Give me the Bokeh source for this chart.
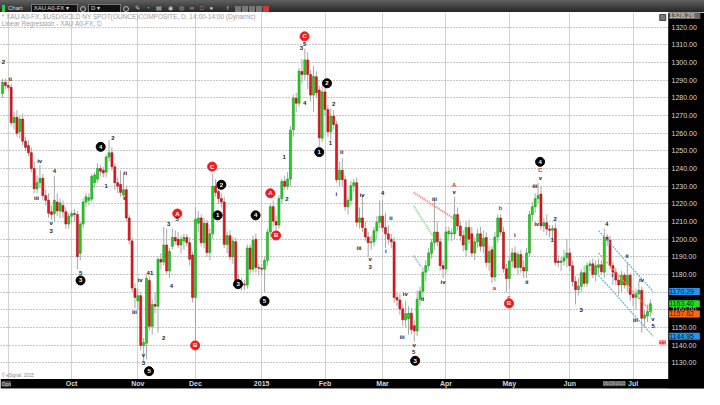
from bokeh.plotting import figure
from bokeh.models import ColumnDataSource, FixedTicker, PrintfTickFormatter, Label, Div
from bokeh.layouts import column
from bokeh.embed import file_html
from bokeh.resources import INLINE
from bokeh.core.properties import value

# ---------------- data ----------------
first_index = -2   # trading-day index of first candle (0 = 1 Sep 2014)
opens = [1282.5,1288.8,1287,1286,1266,1269,1261,1268,1255.5,1253,1249,1240,1228.5,1232,1234.5,1224.7,1222,1215.5,1214.5,1221,1216,1219,1215.5,1208.6,1213,1214.5,
 1214,1192,1208.6,1221,1222,1222.7,1232,1234,1240,1239,1238,1246.5,1249,1241,1232,1231,1225,1228,1212,1199,1172,1165,1168,1139.8,1141,1176.6,1150.6,1163,
 1162,1188.6,1187,1196.7,1182,1196,1201,1200,1196.7,1199,1201,1198,1191,1167,1209,1212,1198,1209,1192.4,1203,1230,1227,1223,1221,1197,1202,1190,1198.5,
 1176,1175,1174.5,1174,1195,1183,1200,1184,1183.5,1183,1188,1204,1218.4,1210,1208,1223,1232.8,1230,1234,1262,1279.8,1277,1295,1293.3,1301.5,1293.3,1281.6,
 1292,1284.5,1257.2,1283.4,1273.5,1260.8,1269.7,1265,1233.7,1239,1233.7,1218.4,1222,1230.3,1232,1209.6,1212,1206,1201.2,1198,1198.5,1204.8,1209.6,1213,
 1206.6,1203,1200,1198.5,1167,1165.5,1160.5,1154.3,1155,1158,1151,1148,1166,1170.5,1181.3,1185,1192,1198,1204,1198.5,1185,1183.2,1203,1203,1203,1213.9,
 1207.5,1202,1194,1206.6,1203,1192.2,1198.5,1203,1196,1201,1186.8,1194,1178.6,1201.2,1212,1204,1183.2,1177.7,1187.6,1192.2,1184,1191.3,1184,1182,1192.2,
 1214,1218.4,1222.9,1225.6,1207.5,1209.3,1205.7,1205,1206,1187.6,1186.8,1187.6,1189.4,1192.2,1185,1176,1171.4,1173.3,1181,1175,1185,1186,1180,1184,1185.5,
 1181.3,1201.2,1199.4,1185,1181.3,1176.8,1174.1,1179.5,1174,1179.5,1168.7,1167,1169,1171,1155.2,1156.5,1159]
highs = [1291,1291,1289,1288,1272,1273,1270,1271,1258,1256,1252,1244,1236,1242,1237,1228,1226,1219,1236,1226,1223,1222,1218,1215,1216,1217,
 1216,1210,1223,1226,1226,1237,1238,1243,1242,1241,1248,1256,1252,1243,1235,1239,1238,1230,1214,1201,1175,1172,1170,1144,1180,1179,1166,1170,
 1190,1192,1207,1206,1195,1206,1205,1204,1202,1203,1203,1201,1193,1218,1216,1214,1212,1211,1206,1237,1234,1229,1226,1224,1204,1205,1201,1201,
 1180,1178,1177,1197,1197,1202,1203,1186,1186,1190,1206,1220,1222,1213,1225,1234,1236,1238,1264,1282,1283,1297,1302,1308,1306,1296,1298,
 1295,1287,1287,1288,1276,1274,1273,1267,1244,1246,1236,1224,1233,1234,1235,1218,1225,1210,1204,1202,1207,1213,1222,1222,
 1215,1208,1203,1201,1170,1169,1163,1165,1162,1161,1154,1171,1173,1184,1188,1195,1200,1222,1210,1201,1188,1207,1207,1206,1224,
 1218,1210,1205,1210,1211,1207,1201,1206,1207,1205,1204,1196,1196,1204,1214,1214,1207,1186,1190,1195,1196,1193,1194,1188,1195,
 1216,1221,1226,1232,1230,1212,1214,1208,1208,1209,1191,1190,1194,1200,1195,1188,1179,1178,1183,1185,1187,1188,1189,1188,1189,
 1188,1206,1203,1202,1187,1184,1179,1182,1181,1187,1181,1171,1172,1176,1173,1160,1163,1166]
lows = [1280,1285,1284,1264,1262,1258,1257,1253,1250,1247,1238,1226,1226,1229,1222,1219,1212,1211,1210,1213,1212,1212,1206,1206,1209,1210,
 1183,1188,1206,1218,1219,1221,1229,1232,1236,1235,1235,1244,1239,1228,1226,1224,1222,1210,1197,1170,1161,1160,1137,1131,1132,1148,1146,1158,
 1147,1183,1185,1180,1178,1194,1197,1195,1192,1194,1196,1185,1164,1140,1204,1196,1195,1190,1188,1200,1224,1220,1218,1195,1192,1188,1186,1172,
 1172,1171,1171,1172,1180,1181,1181,1180,1180,1170,1185,1201,1207,1205,1206,1220,1228,1228,1230,1258,1272,1275,1288,1290,1285,1278,1272,
 1280,1252,1255,1270,1258,1256,1262,1232,1230,1230,1216,1214,1219,1227,1207,1206,1204,1199,1190,1194,1196,1200,1206,
 1204,1195,1197,1195,1164,1162,1157,1151,1150,1146,1146,1142,1145,1162,1166,1176,1182,1189,1194,1196,1182,1178,1180,1199,1199,1200,
 1205,1199,1193,1190,1197,1190,1188,1195,1193,1192,1184,1182,1175,1176,1198,1202,1181,1170,1172,1184,1183,1180,1181,1178,1178,
 1190,1210,1215,1220,1205,1204,1202,1201,1200,1185,1184,1182,1185,1184,1182,1173,1163,1168,1170,1173,1173,1182,1178,1176,1180,
 1180,1178,1196,1183,1174,1174,1168,1170,1172,1170,1165,1162,1160,1166,1147,1150,1153,1156]
closes = [1288.8,1287,1286,1266,1269,1260,1268,1255.5,1252,1249,1240,1228.5,1232,1234.5,1224.7,1222,1214.7,1214,1222,1216,1220.5,1215.5,1208.6,1213,1214.5,1214,
 1190.2,1208.6,1221,1224,1223.5,1235.6,1236.4,1240,1238.5,1237.5,1246.5,1249,1241,1232,1230,1226.5,1228,1212,1199.4,1172.3,1167,1168,1139.8,1141.4,1177.7,1150.6,1163,1162,
 1188.6,1187,1196.7,1182,1193,1201,1199,1196.7,1200,1201,1198,1188.6,1167,1211.3,1212,1198,1209,1192.4,1203,1230,1226.5,1223,1221,1197,1202,1190,1199,1176,
 1175,1174.5,1174,1195,1183,1199.4,1184,1183.5,1183,1188,1204,1218.4,1210.2,1208,1223,1232.8,1230,1234,1261.7,1279.8,1277,1295.2,1293.3,1301.5,1293.3,1281.6,1292.2,
 1283,1257.4,1283.4,1273.5,1260.8,1269.7,1265,1233.7,1239.1,1233.7,1218.4,1222,1230.3,1232,1209.6,1212,1206.6,1201.2,1198,1198.5,1204.8,1209.6,1213,1206.6,
 1203,1200,1198.5,1166.9,1165.5,1160.5,1154.3,1157.8,1158,1148.8,1148,1166,1170.5,1181.3,1185,1192.2,1198,1204,1198.5,1185,1183.2,1204,1204.5,1203.5,1213.9,1207.5,
 1202,1196.7,1206.6,1200,1192.2,1198.5,1203,1196,1200.5,1186.8,1193,1178.6,1201.2,1212,1204,1183.2,1177.7,1187.6,1192.2,1184,1191.3,1184,1182,1192.2,1213.9,
 1218.4,1222.9,1224.7,1207.5,1209.3,1205.7,1205,1206,1186.8,1186.8,1187.6,1189.4,1192.2,1185,1176,1171.4,1173.3,1181,1175,1185,1186,1180,1185,1185.5,1181.5,
 1201.2,1199.4,1185,1181.3,1176.8,1174.1,1179.5,1174.1,1179.5,1168.7,1167,1169,1171,1155.2,1157,1159,1163.4]

month_ticks = [0, 22, 45, 65, 88, 110, 130, 152, 174, 195, 217]
month_labels = ["", "Oct", "Nov", "Dec", "2015", "Feb", "Mar", "Apr", "May", "Jun", "Jul"]
price_ticks = [1130, 1140, 1150, 1160, 1170, 1180, 1190, 1200, 1210, 1220, 1230,
               1240, 1250, 1260, 1270, 1280, 1290, 1300, 1310, 1320]

# wave-count annotations (trading-day index, price, text)
black_circle_x = [32.1, 25.1, 48.9, 74.0, 72.7, 79.8, 85.9, 89.0, 110.7, 108.0, 141.3, 184.7]
black_circle_y = [1252.3, 1176.6, 1125.2, 1230.8, 1213.5, 1174.5, 1213.5, 1164.9, 1288.3, 1249.3, 1131.1, 1243.8]
black_circle_t = ["4", "3", "5", "2", "1", "3", "4", "5", "2", "1", "3", "4"]
red_circle_x = [70.8, 58.7, 64.9, 91.0, 93.0, 102.9, 173.9]
red_circle_y = [1241.1, 1214.5, 1139.8, 1226.0, 1202.1, 1314.9, 1163.6]
red_circle_t = ["C", "A", "B", "A", "B", "C", "B"]
black_text_x = [-1.7, 0.7, 10.9, 9.8, 16.0, 14.9, 14.9, 25.1, 34.0, 36.3, 40.7, 40.4, 43.8, 45.8, 46.9, 46.9, 49.2,
                54.0, 55.7, 56.7, 58.7, 96.8, 95.8, 101.8, 102.9, 102.9, 113.0, 111.9, 115.8, 113.9, 121.8, 122.9,
                125.7, 125.7, 130.0, 132.9, 131.1, 137.9, 136.8, 141.0, 140.8, 143.9, 148.0, 151.0, 154.9, 175.9,
                180.1, 182.9, 183.5, 184.8, 189.9, 188.9, 199.0, 207.8, 209.8, 214.9, 217.8, 219.9, 223.9, 224.0]
black_text_y = [1300.2, 1290.5, 1244.4, 1223.3, 1238.4, 1209.2, 1204.8, 1181.0, 1230.3, 1257.4, 1237.3, 1223.3, 1158.8,
                1176.7, 1134.4, 1130.1, 1181.0, 1144.1, 1208.6, 1173.4, 1211.3, 1222.5, 1246.7, 1308.2, 1310.5, 1277.1,
                1276.7, 1254.5, 1249.1, 1225.6, 1195.1, 1225.0, 1188.6, 1184.2, 1226.1, 1212.0, 1193.1, 1168.7, 1144.3,
                1139.8, 1136.2, 1166.0, 1222.9, 1175.9, 1226.5, 1202.1, 1175.9, 1230.1, 1208.5, 1234.6, 1211.7, 1199.4,
                1160.0, 1208.5, 1179.5, 1190.4, 1154.3, 1176.8, 1154.6, 1150.6]
black_text_t = ["2", "ii", "iv", "iii", "4", "v", "3", "5", "1", "2", "ii", "i", "iii", "iv", "v", "3", "41",
                "2", "3", "4", "5", "2", "1", "3", "5", "4", "2", "1", "ii", "i", "iii", "iv",
                "v", "3", "4", "ii", "i", "iv", "iii", "v", "5", "ii", "iii", "iv", "v", "i",
                "ii", "iii", "iv", "v", "2", "1", "3", "4", "i", "ii", "iii", "iv", "v", "5"]
red_text_x = [154.9, 171.0, 168.8, 173.9, 184.8]
red_text_y = [1230.5, 1217.5, 1172.3, 1167.4, 1239.1]
red_text_t = ["A", "b", "a", "c", "C"]

# linear regression channel (last leg)
reg_x = [205, 224]
reg_mid = [1192.2, 1157.62]
reg_upper = [1204.87, 1170.29]
reg_lower = [1179.53, 1144.95]

# drawn trend lines in March
red_line_x, red_line_y = [140.8, 154.4], [1226.5, 1212.0]
green_line_x, green_line_y = [140.8, 147.3], [1218.9, 1202.0]
blue_line_x, blue_line_y = [140.8, 143.3], [1190.7, 1184.6]

last_price = 1163.40
top_price = 1328.26
counter_text = "33"
cursor_date = "06/29/2015"

# ---------------- figure ----------------
FONT = "Liberation Sans"
plot_x0, plot_x1 = -2.7, 229.2        # price pane
plot_y0, plot_y1 = 1120.8, 1328.4
full_x1 = 241.8                        # includes right price-scale band
full_y0 = 1115.4                       # includes bottom date band

p = figure(width=704, height=377, x_range=(plot_x0, full_x1), y_range=(full_y0, plot_y1),
           y_axis_location="right", output_backend="svg", toolbar_location=None,
           min_border_left=0, min_border_right=0, min_border_top=0, min_border_bottom=0,
           background_fill_color="white", border_fill_color="black", outline_line_color=None)

p.yaxis.ticker = FixedTicker(ticks=price_ticks)
p.yaxis.formatter = PrintfTickFormatter(format="%.2f")
p.yaxis.major_label_text_font_size = "7px"
p.yaxis.major_label_text_color = "#d8d8d8"
p.yaxis.major_label_text_font = FONT
p.yaxis.axis_line_color = None
p.yaxis.major_tick_line_color = None
p.yaxis.minor_tick_line_color = None
p.yaxis.major_tick_out = 0
p.yaxis.major_tick_in = 0
p.yaxis.major_label_standoff = -33

p.xaxis.ticker = FixedTicker(ticks=month_ticks)
p.xaxis.major_label_overrides = {t: l for t, l in zip(month_ticks, month_labels)}
p.xaxis.major_label_text_font_size = "7px"
p.xaxis.major_label_text_font_style = "bold"
p.xaxis.major_label_text_color = "#d8d8d8"
p.xaxis.major_label_text_font = FONT
p.xaxis.axis_line_color = None
p.xaxis.major_tick_line_color = None
p.xaxis.minor_tick_line_color = None
p.xaxis.major_tick_out = 0
p.xaxis.major_tick_in = 0
p.xaxis.major_label_standoff = -9

p.ygrid.grid_line_color = "#8c8c8c"
p.ygrid.grid_line_dash = "1 2"
p.xgrid.grid_line_color = "#d2d2d2"

# black bands for the price scale (right) and the date scale (bottom)
p.quad(left=[plot_x1], right=[full_x1], bottom=[full_y0], top=[plot_y1], fill_color="black", line_color=None)
p.quad(left=[plot_x0], right=[full_x1], bottom=[full_y0], top=[plot_y0], fill_color="black", line_color=None)

# candles
xs = list(range(first_index, first_index + len(opens)))
tops = [max(o, c) for o, c in zip(opens, closes)]
bots = [min(o, c) for o, c in zip(opens, closes)]
fills = ["#1fd21f" if c >= o else "#e8141b" for o, c in zip(opens, closes)]
lines = ["#0f8a0f" if c >= o else "#9a0a0a" for o, c in zip(opens, closes)]
src = ColumnDataSource(dict(x=xs, o=opens, h=highs, l=lows, c=closes, top=tops, bot=bots, fill=fills, line=lines))
p.segment(x0="x", y0="h", x1="x", y1="l", source=src, line_color="#a8a8a8", line_width=1)
p.vbar(x="x", top="top", bottom="bot", width=0.72, source=src, fill_color="fill", line_color="line", line_width=0.5)

# regression channel and trend lines
p.line(reg_x, reg_upper, line_color="#5ab4ee", line_width=1.2, line_dash="2 1")
p.line(reg_x, reg_lower, line_color="#5ab4ee", line_width=1.2, line_dash="2 1")
p.line(reg_x, reg_mid, line_color="#ff8a1e", line_width=1.2, line_dash="2 1")
p.line(red_line_x, red_line_y, line_color="#ff6f6f", line_width=2, line_dash="1 1")
p.line(green_line_x, green_line_y, line_color="#7ee37e", line_width=2, line_dash="1 1")
p.line(blue_line_x, blue_line_y, line_color="#8fb0ff", line_width=2, line_dash="1 1")

# wave labels
p.scatter(black_circle_x, black_circle_y, size=9, fill_color="black", line_color="black")
p.text(black_circle_x, black_circle_y, text=black_circle_t, text_color="white", text_font_size="6px",
       text_font_style="bold", text_align="center", text_baseline="middle", text_font=value(FONT))
p.scatter(red_circle_x, red_circle_y, size=9, fill_color="#f01c1c", line_color="#f01c1c")
p.text(red_circle_x, red_circle_y, text=red_circle_t, text_color="white", text_font_size="6px",
       text_font_style="bold", text_align="center", text_baseline="middle", text_font=value(FONT))
p.text(black_text_x, black_text_y, text=black_text_t, text_color="#222222", text_font_size="6px",
       text_font_style="bold", text_align="center", text_baseline="middle", text_font=value(FONT))
p.text(red_text_x, red_text_y, text=red_text_t, text_color="#f01c1c", text_font_size="6px",
       text_font_style="bold", text_align="center", text_baseline="middle", text_font=value(FONT))

# legend text
p.add_layout(Label(x=-2.3, y=1326.0, text="* XAU A0-FX, $USD/GOLD NY SPOT(OUNCE)COMPOSITE, D, 14:00-14:00 (Dynamic)",
                   text_font_size="6.5px", text_color="#a0a0a0", text_font=FONT, text_baseline="middle"))
p.add_layout(Label(x=-2.3, y=1322.2, text="Linear Regression - XAU A0-FX, D",
                   text_font_size="6.5px", text_color="#a0a0a0", text_font=FONT, text_baseline="middle"))
p.add_layout(Label(x=-2.3, y=1123.0, text="\u00a9 eSignal, 2015", text_font_size="4.5px",
                   text_color="#888888", text_font=FONT, text_baseline="middle"))
p.scatter([227.3], [1325.6], marker="square", size=6, fill_color="#777777", line_color="#444444")

# right-scale value flags
def flag(y, txt, bg, fg):
    p.add_layout(Label(x=plot_x1, y=y, x_offset=1, text=" " + txt + "  ", text_font_size="7px", text_color=fg,
                       text_font=FONT, text_baseline="middle", background_fill_color=bg))

flag(top_price - 1.6, f"{top_price:.2f}", "#6a6a6a", "#dddddd")
flag(reg_upper[-1], f"{reg_upper[-1]:.2f}", "#2394f0", "#0a1a40")
flag(last_price, f"{last_price:.2f}", "#22dd22", "#053005")
flag(reg_mid[-1], f"{reg_mid[-1]:.2f}", "#ff6a10", "#402000")
flag(reg_lower[-1], f"{reg_lower[-1]:.2f}", "#2394f0", "#0a1a40")
p.add_layout(Label(x=plot_x1, y=1141.4, x_offset=-9, text=counter_text, text_font_size="6px", text_color="#ffdddd",
                   text_font=FONT, text_baseline="middle", background_fill_color="#ff2020"))

# bottom-band widgets
p.add_layout(Label(x=plot_x0, y=(full_y0 + plot_y0) / 2, x_offset=1, text="Opn", text_font_size="5px",
                   text_color="#dddddd", text_font=FONT, text_baseline="middle", background_fill_color="#444444"))
p.add_layout(Label(x=215.4, y=(full_y0 + plot_y0) / 2, x_offset=-3, text=cursor_date, text_font_size="4.5px",
                   text_color="#bbbbbb", text_font=FONT, text_baseline="middle", text_align="right",
                   background_fill_color="#5a5a5a"))

# ---------------- header bar ----------------
header_html = (
    '<div style="display:flex;align-items:center;height:12px;font-family:\'Liberation Sans\';'
    'font-size:6px;color:#dddddd;white-space:nowrap;">'
    '<span style="display:inline-block;width:3px;height:7px;background:#2ecc40;margin:0 3px 0 2px"></span>'
    '<span style="margin-right:8px">Chart</span>'
    '<span style="background:#111;border:1px solid #777;padding:0 8px 0 2px;margin-right:2px;line-height:7px">XAU A0-FX &#9662;</span>'
    '<span style="display:inline-block;width:6px;height:6px;border-radius:3px;border:1px solid #bbb;margin-right:2px"></span>'
    '<span style="background:#111;border:1px solid #777;padding:0 20px 0 2px;margin-right:2px;line-height:7px">D &#9662;</span>'
    '<span style="display:inline-block;width:6px;height:6px;border-radius:3px;border:1px solid #bbb;margin-right:6px"></span>'
    '<span style="letter-spacing:6px;color:#cccccc">&#9998;&#9684;&#9636;&#9673;&#9678;&#8734;&#9633;&#9679; f</span>'
    '<span style="flex:1"></span>'
    '<span style="display:inline-block;width:6px;height:6px;background:#777;margin-right:1px"></span>'
    '<span style="display:inline-block;width:6px;height:6px;background:#777;margin-right:1px"></span>'
    '<span style="display:inline-block;width:6px;height:6px;background:#777;margin-right:1px"></span>'
    '<span style="display:inline-block;width:6px;height:6px;background:#777;margin-right:1px"></span>'
    '<span style="display:inline-block;width:6px;height:6px;background:#d33;margin-right:1px"></span>'
    '</div>'
)
header = Div(text=header_html, width=704, height=12, margin=0,
             styles={"background": "linear-gradient(#606060, #262626)", "overflow": "hidden"})

layout = column(header, p, spacing=0, margin=0)
open("out.html", "w").write(file_html(layout, INLINE))
